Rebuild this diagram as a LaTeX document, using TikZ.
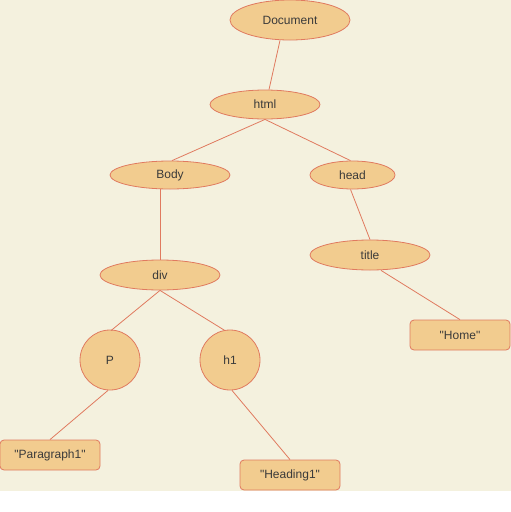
\documentclass[tikz,border=0pt]{standalone}
\usepackage{fontspec}
\setmainfont{Liberation Sans}[Ligatures=TeXOff]
\definecolor{bgc}{HTML}{F4F1DE}
\definecolor{fillc}{HTML}{F2CC8F}
\definecolor{strokec}{HTML}{E07A5F}
\definecolor{textc}{HTML}{3A3A3A}
\usetikzlibrary{shapes.geometric,calc}
\begin{document}
\begin{tikzpicture}[x=1pt,y=-1pt,
  base/.style={draw=strokec,fill=fillc,text=textc,font=\fontsize{12}{14}\selectfont,line width=0.8pt,inner sep=0pt},
  ell/.style={base,ellipse},
  circ/.style={base,circle,minimum size=60pt},
  valbox/.style={base,rectangle,rounded corners=4pt,minimum width=100pt,minimum height=30pt},
  link/.style={draw=strokec,line width=0.8pt}]
\useasboundingbox (0,0) rectangle (511,512);
\fill[bgc] (0,0) rectangle (511,491);
\node[ell,minimum width=120pt,minimum height=40pt] (doc) at (290,20) {Document};
\node[ell,minimum width=110pt,minimum height=29pt] (html) at (265,104.5) {html};
\node[ell,minimum width=120pt,minimum height=28pt] (body) at (170,175) {Body};
\node[ell,minimum width=85pt,minimum height=28pt] (head) at (352.5,175) {head};
\node[ell,minimum width=120pt,minimum height=30pt] (div) at (160,275) {div};
\node[ell,minimum width=120pt,minimum height=30pt] (title) at (370,255) {title};
\node[circ] (p) at (110,360) {P};
\node[circ] (h1) at (230,360) {h1};
\node[valbox] (para) at (50,455) {"Paragraph1"};
\node[valbox] (heading) at (290,475) {"Heading1"};
\node[valbox] (home) at (460,335) {"Home"};
\draw[link] ($(doc.south)+(-10,0)$) -- ($(html.north)+(4,0)$);
\draw[link] (html.south) -- ($(body.north)+(2,0)$);
\draw[link] (html.south) -- ($(head.north)+(-2,0)$);
\draw[link] (body.south -| div.north) -- (div.north);
\draw[link] (div.south) -- ($(p.north)+(1,1)$);
\draw[link] (div.south) -- ($(h1.north)+(-5,1)$);
\draw[link] ($(p.south)+(-2,0)$) -- (para.north);
\draw[link] ($(h1.south)+(2,0)$) -- (heading.north);
\draw[link] ($(head.south)+(-2,0)$) -- (title.north);
\draw[link] ($(title.south)+(11,0)$) -- (home.north);
\end{tikzpicture}
\end{document}
